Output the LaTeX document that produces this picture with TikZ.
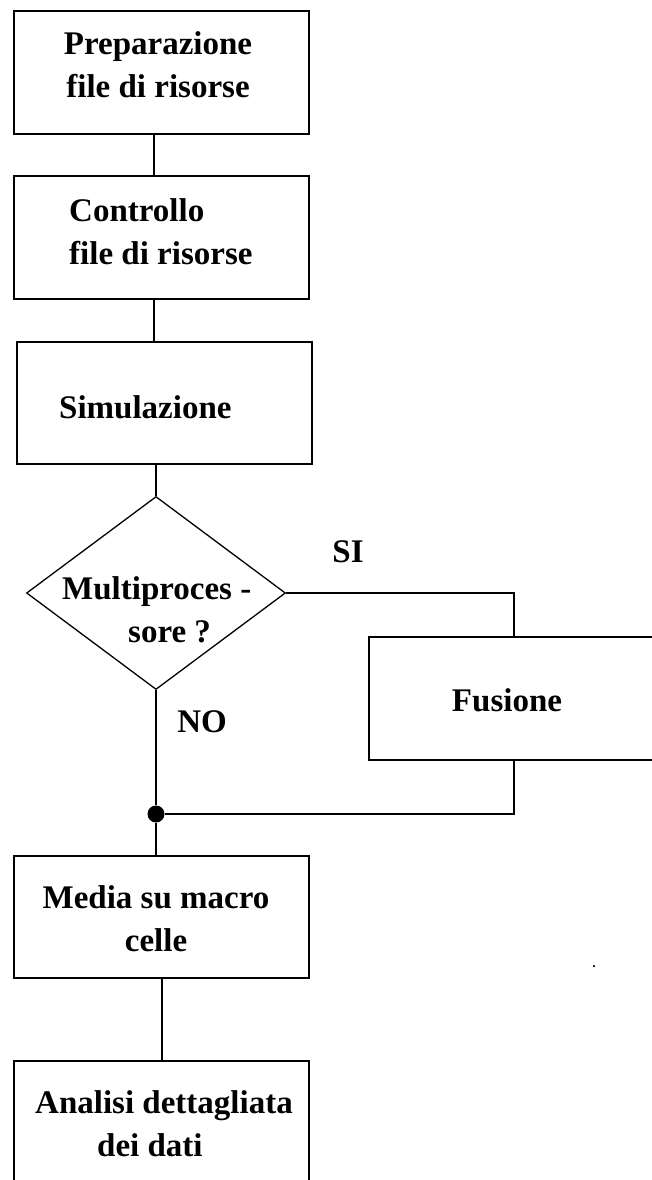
\documentclass[tikz,border=0pt]{standalone}
\usepackage{fontspec}
\setmainfont{Liberation Serif}
\usetikzlibrary{shapes.geometric}
\begin{document}
\begin{tikzpicture}[x=1pt,y=-1pt,
  box/.style={draw,line width=2pt,minimum width=295pt,minimum height=123pt,inner sep=0pt},
  txt/.style={font=\fontsize{33}{43}\selectfont\bfseries,inner sep=0pt},
  conn/.style={line width=2pt}]
\useasboundingbox (0,0) rectangle (652,1180);
\fill[white] (0,0) rectangle (652,1180);
% boxes
\node[box] (b1) at (161.5,72.5) {};
\node[box] (b2) at (161.5,237.5) {};
\node[box,minimum height=122pt] (b3) at (164.5,403) {};
\node[draw,diamond,line width=1.3pt,minimum width=259pt,minimum height=193pt,inner sep=0pt] (dec) at (156,593) {};
\node[box] (fus) at (516.5,698.5) {};
\node[box,minimum height=122pt] (m) at (161.5,917) {};
\node[box] (an) at (161.5,1122.5) {};
\node[circle,fill,inner sep=0pt,minimum size=17pt] (dot) at (156,814) {};
\node[circle,fill,inner sep=0pt,minimum size=2.5pt] (speck) at (594,966) {};
% texts
\node[txt,align=center] (t1) at (158,65) {Preparazione\\file di risorse};
\node[txt,align=left,anchor=west] (t2) at (69,231.5) {Controllo\\file di risorse};
\node[txt,anchor=west] (t3) at (59,407) {Simulazione};
\node[txt,align=left,anchor=west] (t4) at (62,610) {Multiproces -\\\hspace*{66pt}sore ?};
\node[txt] (t5) at (507,700) {Fusione};
\node[txt,align=center] (t6) at (156,918.5) {Media su macro\\celle};
\node[txt,align=left,anchor=west] (t7) at (35,1123.5) {Analisi dettagliata\\\hspace*{62pt}dei dati};
\node[txt] (si) at (348,552) {SI};
\node[txt] (no) at (202,722) {NO};
% connectors
\draw[conn] ([xshift=-7.5pt]b1.south) -- ([xshift=-7.5pt]b2.north);
\draw[conn] ([xshift=-7.5pt]b2.south) -- ([xshift=-10.5pt]b3.north);
\draw[conn] ([xshift=-8.5pt]b3.south) -- (dec.north);
\draw[conn] (dec.south) -- (dot);
\draw[conn] (dot) -- ([xshift=-5.5pt]m.north);
\draw[conn] (m.south) -- (an.north);
\draw[conn] (dec.east) -| ([xshift=-2.5pt]fus.north);
\draw[conn] ([xshift=-2.5pt]fus.south) |- (dot);
\end{tikzpicture}
\end{document}
